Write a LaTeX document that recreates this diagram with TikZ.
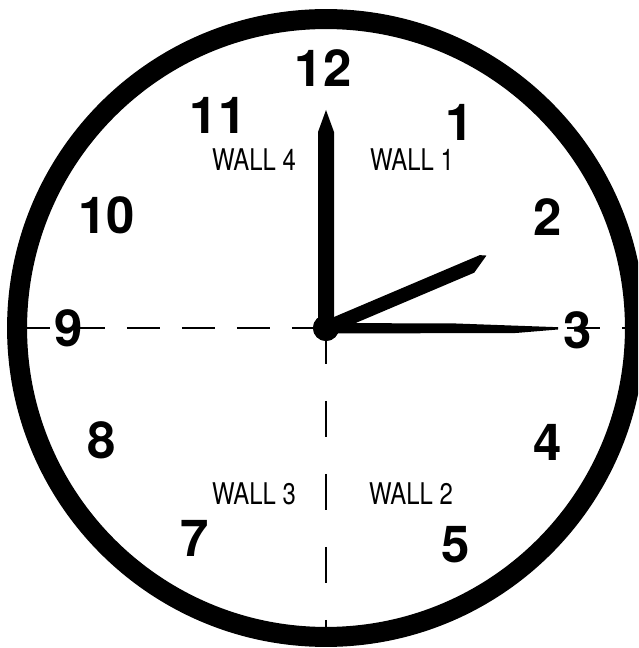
\documentclass[tikz,border=0pt]{standalone}
\usepackage{fontspec}
\setmainfont{TeX Gyre Heros}
\newfontfamily\wallfont[FakeStretch=0.8]{TeX Gyre Heros}

\begin{document}
\begin{tikzpicture}[
    x=0.02cm, y=0.02cm,
    num/.style={inner sep=0pt, font=\fontsize{29}{29}\selectfont\bfseries},
    wall/.style={inner sep=0pt, font=\wallfont\fontsize{17}{17}\selectfont},
    ring/.style={draw=black, line width=0.4cm},
    axis/.style={draw=black, line width=0.04cm, dash pattern=on 0.66cm off 0.44cm},
    drop/.style={draw=black, line width=0.04cm, dash pattern=on 0.72cm off 0.74cm},
    hand/.style={fill=black},
    hub/.style={circle, fill=black, inner sep=0pt, minimum size=0.52cm},
  ]
    \useasboundingbox (-326,-320) rectangle (312,328);
    \clip (-326,-320) rectangle (312,328);

    \coordinate (west) at (-309,0);
    \coordinate (east) at (309,0);
    \coordinate (south) at (0,-309);
    \node[hub] (pivot) at (0,0) {};

    \draw[axis] (west) -- (east);
    \draw[drop] (pivot.center) -- (south);

    \fill[hand] (-8,0) -- (-8,196) -- (0,218) -- (8,196) -- (8,0) -- cycle;
    \fill[hand, rotate=23] (0,-7) -- (158,-7) -- (176,4) -- (170,7) -- (0,7) -- cycle;
    \fill[hand] (0,5) -- (130,4.5) -- (232,0.8) -- (232,-1.5) -- (190,-5) -- (0,-5.5) -- cycle;
    \node[hub] at (pivot) {};

    \draw[ring] (0,0) circle (6.18cm);

    \node[num] (n12) at (-3,260) {12};
    \node[num] (n1) at (134,206) {1};
    \node[num] (n2) at (222,111) {2};
    \node[num] (n3) at (252,-2) {3};
    \node[num] (n4) at (222,-114) {4};
    \node[num] (n5) at (130,-217) {5};
    \node[num] (n7) at (-131,-210) {7};
    \node[num] (n8) at (-224,-112) {8};
    \node[num] (n9) at (-257,0) {9};
    \node[num] (n10) at (-219,113) {10};
    \node[num] (n11) at (-108,213) {11};

    \node[wall] (w4) at (-72,168) {WALL 4};
    \node[wall] (w1) at (86,168) {WALL 1};
    \node[wall] (w3) at (-72,-166) {WALL 3};
    \node[wall] (w2) at (85,-166) {WALL 2};
  \end{tikzpicture}
\end{document}
